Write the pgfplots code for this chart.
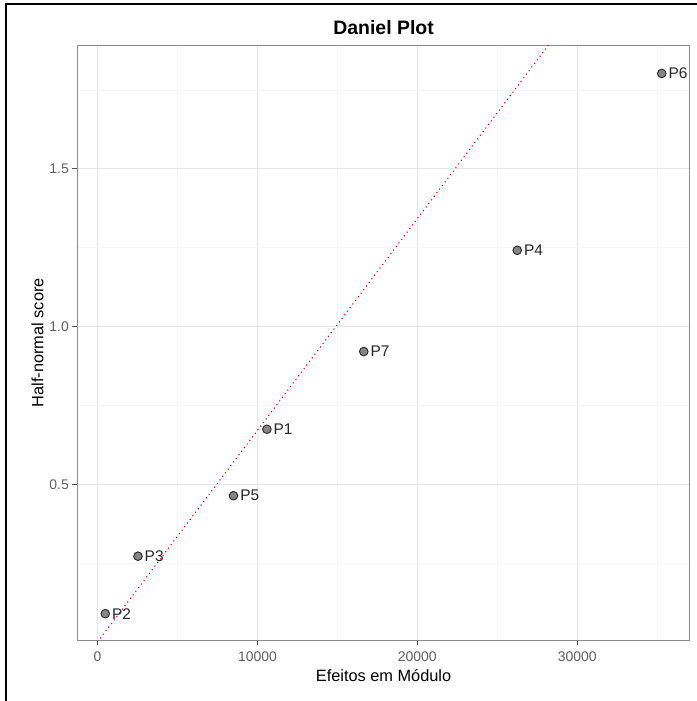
\documentclass[border=0pt]{standalone}
\usepackage{fontspec}
\setmainfont{Liberation Sans}
\usepackage{pgfplots}
\usepackage{pgfplotstable}
\pgfplotsset{compat=1.18}

\definecolor{gridmajor}{HTML}{E6E6E6}
\definecolor{gridminor}{HTML}{F6F6F6}
\definecolor{panelframe}{HTML}{8C8C8C}
\definecolor{ticktext}{HTML}{606060}
\definecolor{tickmark}{HTML}{505050}
\definecolor{ptfill}{HTML}{858585}
\definecolor{ptedge}{HTML}{262626}
\definecolor{ptlabel}{HTML}{262626}

% absolute effects and their half-normal scores
\pgfplotstableread{
x     y      label
10590 0.6745 P1
480   0.0896 P2
2525  0.2719 P3
26250 1.2419 P4
8500  0.4637 P5
35290 1.8027 P6
16650 0.9208 P7
}\effects

\begin{document}
\begin{tikzpicture}[x=1bp,y=1bp]
\useasboundingbox (0,0) rectangle (697,701);
\begin{axis}[
  at={(77.3bp,60.7bp)}, anchor=south west,
  scale only axis, width=612.5bp, height=595bp,
  xmin=-1270, xmax=37044, ymin=0.0052, ymax=1.892,
  xtick={0,10000,20000,30000},
  xticklabels={0,10000,20000,30000},
  ytick={0.5,1.0,1.5},
  yticklabels={0.5,1.0,1.5},
  minor xtick={5000,15000,25000,35000},
  minor ytick={0.25,0.75,1.25,1.75},
  scaled x ticks=false,
  grid=both,
  major grid style={color=gridmajor, line width=1bp},
  minor grid style={color=gridminor, line width=0.8bp},
  axis line style={color=panelframe, line width=1.3bp},
  tick align=outside,
  xtick pos=bottom, ytick pos=left,
  major tick length=5bp, minor tick length=0pt,
  major tick style={color=tickmark, line width=0.9bp},
  /pgf/number format/assume math mode=true,
  tick label style={font=\fontsize{14}{14}\selectfont, color=ticktext},
  xticklabel style={yshift=-3bp},
  title={Daniel Plot},
  title style={font=\fontsize{19.5}{19.5}\selectfont\bfseries,
    at={(axis description cs:0.5,1)}, anchor=base, yshift=4.6bp, inner sep=0pt},
  xlabel={Efeitos em Módulo},
  xlabel style={font=\fontsize{16.4}{16.4}\selectfont,
    at={(axis description cs:0.5,0)}, anchor=base, yshift=-41.5bp, inner sep=0pt},
  ylabel={Half-normal score},
  ylabel style={font=\fontsize{16.4}{16.4}\selectfont,
    at={(axis description cs:0,0.5)}, anchor=base, yshift=34bp, inner sep=0pt},
  clip=true,
]
% reference line through the origin
\addplot[red, line width=1.1bp, dash pattern=on 1.1bp off 3.4bp, forget plot]
  coordinates {(0,0) (30000,2.0133)};
% effects with their labels
\addplot[only marks, mark=*, mark size=4.3bp,
  mark options={fill=ptfill, draw=ptedge, line width=0.9bp},
  nodes near coords, point meta=explicit symbolic,
  nodes near coords style={anchor=west, xshift=3bp, color=ptlabel,
    font=\fontsize{15.5}{15.5}\selectfont}]
  table[x=x, y=y, meta=label] {\effects};
\end{axis}
% frame of the window
\draw[black, line width=2bp] (6,0) -- (6,697.3) -- (697,697.3);
\end{tikzpicture}
\end{document}
